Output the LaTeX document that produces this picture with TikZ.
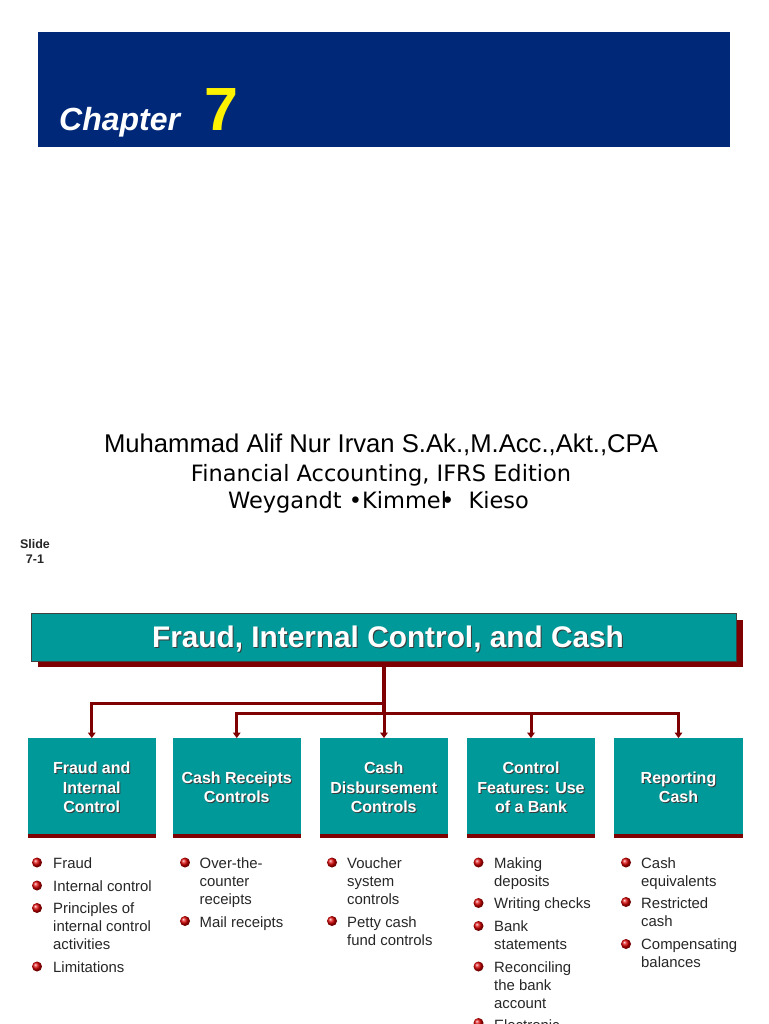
\documentclass[tikz,border=0pt]{standalone}
\usepackage{fontspec}
\setmainfont{Liberation Sans}
\newfontfamily\dejafont{DejaVu Sans}
\usetikzlibrary{arrows.meta,shadows,positioning}
\definecolor{bannerblue}{HTML}{002878}
\definecolor{tealbox}{HTML}{009999}
\definecolor{darkred}{HTML}{7F0000}
\definecolor{listgray}{HTML}{262626}
\definecolor{textshade}{HTML}{3A3A3A}
\newcommand{\shline}[1]{\leavevmode\rlap{\kern1pt\raisebox{-1pt}{\textcolor{textshade}{#1}}}#1}
\newcommand{\boxtop}{\rule{0pt}{14.6pt}}
\tikzset{head box/.style={rectangle,fill=tealbox,draw=black!75,line width=1pt,minimum width=705pt,minimum height=47.5pt,
            inner sep=0pt,text=white,font=\fontsize{29.8}{34}\selectfont\bfseries,text height=20.8pt,text depth=0pt,
            drop shadow={shadow xshift=6pt,shadow yshift=-6pt,fill=darkred,opacity=1}},
         sub box/.style={rectangle,fill=tealbox,minimum width=128.5pt,minimum height=96pt,
            inner sep=0pt,align=center,text=white,font=\fontsize{16}{19.3}\selectfont\bfseries,
            drop shadow={shadow xshift=0pt,shadow yshift=-3.4pt,fill=darkred,opacity=1}},
         link/.style={draw=darkred,line width=3pt},
         link arrow/.style={link,-{Triangle[length=5.5pt,width=7.5pt]}},
         list text/.style={anchor=north west,inner sep=0pt,align=left,text=listgray,
            font=\fontsize{14.9}{18}\selectfont,execute at begin node=\strut},
         ball/.style={circle,ball color=red!85!black,minimum size=10pt,inner sep=0pt},
         plain text/.style={inner sep=0pt,align=center},
}
\begin{document}
\begin{tikzpicture}[x=1pt,y=-1pt]
\useasboundingbox (0,0) rectangle (768,1024);

% banner
\node[rectangle,fill=bannerblue,minimum width=692pt,minimum height=115pt,inner sep=0pt] (banner) at (384,89.5) {};
\node[anchor=base west,inner sep=0pt,text=white,font=\fontsize{32}{36}\selectfont\bfseries\itshape] (chapter) at (59,130.5) {Chapter};
\node[anchor=base west,inner sep=0pt,text=yellow,font=\fontsize{61}{70}\selectfont\bfseries] (number) at (204.5,130.5) {7};

\node[plain text,font=\fontsize{25.65}{30}\selectfont] (author) at (381,445) {Muhammad Alif Nur Irvan S.Ak.,M.Acc.,Akt.,CPA};
\node[plain text,font=\dejafont\fontsize{22.5}{26}\selectfont] (book) at (381,475.5) {Financial Accounting, IFRS Edition};
\node[plain text,font=\dejafont\fontsize{22.5}{26}\selectfont] (names) at (378.5,502.5) {Weygandt •Kimmel\kern-6pt•\ \ Kieso};
\node[plain text,font=\fontsize{12.5}{15}\selectfont\bfseries,text=black!85] (slide) at (35,551) {Slide\\7-1};

% title and the five boxes
\node[head box] (title) at (384,637.5) {\kern8pt\shline{Fraud, Internal Control, and Cash}};

\node[sub box] (b1) at (91.75,786.3) {\boxtop\shline{Fraud and}\\\shline{Internal}\\\shline{Control}};
\node[sub box] (b2) at (236.75,786.3) {\boxtop\shline{Cash Receipts}\\\shline{Controls}};
\node[sub box] (b3) at (383.75,786.3) {\boxtop\shline{Cash}\\\shline{Disbursement}\\\shline{Controls}};
\node[sub box] (b4) at (531,786.3) {\boxtop\shline{Control}\\\shline{Features: Use}\\\shline{of a Bank}};
\node[sub box] (b5) at (678.5,786.3) {\boxtop\shline{Reporting}\\\shline{Cash}};

\coordinate (j1) at (384,703.5);
\coordinate (j2) at (384,713);

\draw[link,line width=4pt] (title.south) -- (j2);
\draw[link arrow] (j1) -| (b1.north);
\draw[link arrow] (j2) -| (b2.north);
\draw[link arrow] (j2) -- (j2|-b3.north);
\draw[link arrow] (j2) -| (b4.north);
\draw[link arrow] (j2) -| (b5.north);

% lists
\node[list text] (l1a) at (53,855.5) {Fraud};
\node[list text] (l1b) at (53,878.5) {Internal control};
\node[list text] (l1c) at (53,902) {Principles of\\internal control\\activities};
\node[list text] (l1d) at (53,960) {Limitations};

\node[list text] (l2a) at (199.5,857) {Over-the-\\counter\\receipts};
\node[list text] (l2b) at (199.5,914.5) {Mail receipts};

\node[list text] (l3a) at (347,857) {Voucher\\system\\controls};
\node[list text] (l3b) at (347,916) {Petty cash\\fund controls};

\node[list text] (l4a) at (494,857) {Making\\deposits};
\node[list text] (l4b) at (494,896) {Writing checks};
\node[list text] (l4c) at (494,920) {Bank\\statements};
\node[list text] (l4d) at (494,961) {Reconciling\\the bank\\account};
\node[list text] (l4e) at (494,1017.5) {Electronic};

\node[list text] (l5a) at (641,857) {Cash\\equivalents};
\node[list text] (l5b) at (641,897) {Restricted\\cash};
\node[list text] (l5c) at (641,938) {Compensating\\balances};

\foreach \x/\y [count=\i] in {37/862.5,37/885.5,37/908,37/966.5,
                              185/862.5,185/921,
                              332/862.5,332/921,
                              478.5/862.5,478.5/903,478.5/926,478.5/966.5,478.5/1023,
                              626/862.5,626/902,626/944}
    \node[ball] (dot\i) at (\x,\y) {};

\end{tikzpicture}
\end{document}
